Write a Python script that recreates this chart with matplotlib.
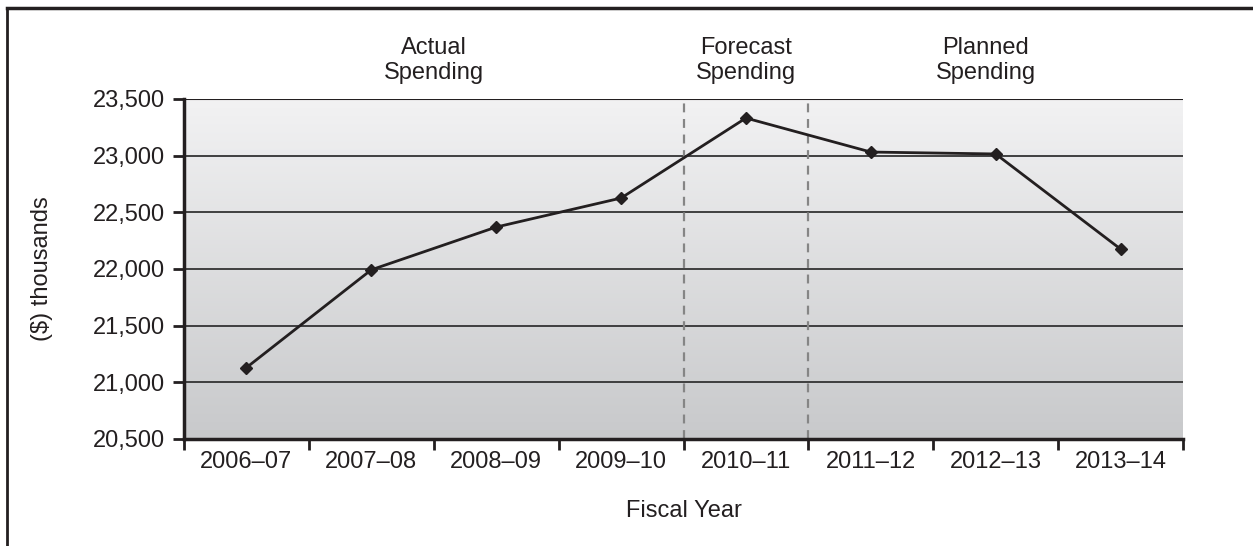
import numpy as np
from matplotlib import pyplot as plt
from matplotlib.lines import Line2D

years = ["2006–07", "2007–08", "2008–09", "2009–10", "2010–11", "2011–12", "2012–13", "2013–14"]
spending = [21130, 21993, 22370, 22626, 23332, 23032, 23015, 22176]
yticks = [20500, 21000, 21500, 22000, 22500, 23000, 23500]
periods = ["Actual\nSpending", "Forecast\nSpending", "Planned\nSpending"]
period_x = [2.0, 4.5, 6.42]
period_breaks = [4, 5]

plt.rcParams.update({'font.family': ['Liberation Sans', 'DejaVu Sans'], 'font.size': 17})

fig = plt.figure(figsize=(12.53, 5.46), dpi=100)
ax = fig.add_axes([184/1253, 107/546, 999/1253, 340/546])

# gradient background, light at the top, darker at the bottom
grad = np.linspace(0, 1, 256).reshape(-1, 1)
ax.imshow(grad, cmap=plt.matplotlib.colors.LinearSegmentedColormap.from_list("g", ["#f2f2f3", "#c8c9cb"]),
          extent=[0, 1, 0, 1], transform=ax.transAxes, aspect='auto', zorder=0)

ax.set_xlim(0, len(years))
ax.set_ylim(yticks[0], yticks[-1])

for y in yticks[1:]:
    ax.axhline(y, color="#333333", linewidth=1.3, zorder=1)
for b in period_breaks:
    ax.axvline(b, color="#858585", linewidth=1.6, linestyle=(0, (4, 3)), zorder=1)

xs = np.arange(len(years)) + 0.5
ax.plot(xs, spending, color="#231f20", linewidth=2.0, marker="D", markersize=6, zorder=3)

for px, label in zip(period_x, periods):
    ax.text(px, 1.044, label, transform=ax.get_xaxis_transform(), ha="center", va="bottom",
            color="#231f20", linespacing=1.2)

ax.set_yticks(yticks)
ax.set_yticklabels([f"{v:,}" for v in yticks])
ax.set_xticks(np.arange(len(years) + 1))
ax.set_xticklabels([])
ax.set_xticks(xs, minor=True)
ax.set_xticklabels(years, minor=True)
ax.tick_params(axis="x", which="minor", length=0, pad=9)
ax.tick_params(axis="x", which="major", length=8, width=2, color="#231f20")
ax.tick_params(axis="y", length=8, width=2, pad=5.5, color="#231f20")
ax.tick_params(colors="#231f20", which="both", labelcolor="#231f20")

for side in ["top", "right"]:
    ax.spines[side].set_visible(False)
ax.axhline(yticks[-1], color="#231f20", linewidth=1.5, zorder=2)
for side in ["left", "bottom"]:
    ax.spines[side].set_linewidth(2.5)
    ax.spines[side].set_color("#231f20")
    ax.spines[side].set_zorder(4)

ax.set_xlabel("Fiscal Year", labelpad=19, color="#231f20")
ax.set_ylabel("($) thousands", color="#231f20")
ax.yaxis.set_label_coords(-0.131, 0.5)

# frame around the figure (top and left only)
fig.add_artist(Line2D([7/1253, 1], [1 - 8/546, 1 - 8/546], color="#231f20", linewidth=2.5, transform=fig.transFigure))
fig.add_artist(Line2D([7/1253, 7/1253], [0, 1 - 8/546], color="#231f20", linewidth=2.0, transform=fig.transFigure))

fig.savefig("out.png", dpi=100)
